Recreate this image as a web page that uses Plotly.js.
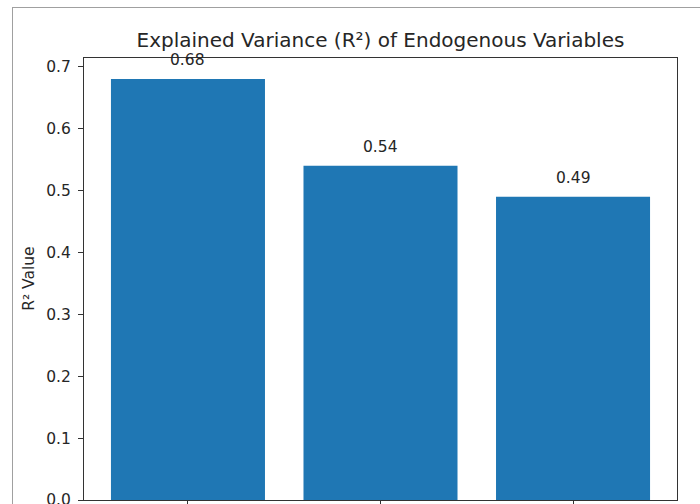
<!DOCTYPE html>
<html>
<head>
<meta charset="utf-8">
<script src="https://cdn.plot.ly/plotly-3.0.1.min.js"></script>
<style>
  html, body { margin: 0; padding: 0; background: #ffffff; overflow: hidden; width: 700px; height: 504px; }
  #frame { position: absolute; left: 12px; top: 7px; width: 700px; height: 600px; border: 1px solid #a0a0a0; box-sizing: border-box; }
  #chart { position: absolute; left: 0; top: 0; width: 700px; height: 540px; }
</style>
</head>
<body>
<div id="frame"></div>
<div id="chart"></div>
<script>
// Data (x tick labels are cropped out of the image)
const categories = ["Endogenous 1", "Endogenous 2", "Endogenous 3"];
const r2Values = [0.68, 0.54, 0.49];
const valueLabels = ["0.68", "0.54", "0.49"];
const yTicks = [0.0, 0.1, 0.2, 0.3, 0.4, 0.5, 0.6, 0.7];
const yTickLabels = ["0.0", "0.1", "0.2", "0.3", "0.4", "0.5", "0.6", "0.7"];

const xPos = categories.map((c, i) => i);
const font = "DejaVu Sans, sans-serif";
const textColor = "#262626";
const smallSize = 15.5;

const trace = {
  type: "bar",
  x: xPos,
  y: r2Values,
  width: 0.8,
  marker: { color: "#1f77b4", line: { width: 0 } },
  hoverinfo: "skip",
  customdata: categories
};

const annotations = r2Values.map((v, i) => ({
  x: xPos[i], y: v, xref: "x", yref: "y",
  text: valueLabels[i], showarrow: false,
  yanchor: "middle", yshift: 19,
  font: { family: font, size: smallSize, color: textColor }
}));

annotations.push({
  xref: "paper", yref: "paper", x: -0.093, y: 0.5,
  text: "R² Value", textangle: -90, showarrow: false,
  xanchor: "center", yanchor: "middle",
  font: { family: font, size: smallSize, color: textColor }
});

const layout = {
  width: 700, height: 540,
  margin: { l: 84, r: 23, t: 58, b: 40, pad: 0 },
  paper_bgcolor: "rgba(0,0,0,0)",
  plot_bgcolor: "#ffffff",
  showlegend: false,
  title: {
    text: "Explained Variance (R²) of Endogenous Variables",
    font: { family: font, size: 20, color: textColor },
    x: 0.5435, xanchor: "center", xref: "container",
    y: 1 - 40 / 540, yanchor: "middle", yref: "container"
  },
  xaxis: {
    range: [-0.54, 2.54],
    tickvals: xPos, ticktext: categories,
    showticklabels: false,
    ticks: "outside", ticklen: 5, tickwidth: 1, tickcolor: "#333",
    showgrid: false, zeroline: false,
    showline: true, linecolor: "#333", linewidth: 1, mirror: true,
    fixedrange: true
  },
  yaxis: {
    range: [0, 0.714],
    tickvals: yTicks, ticktext: yTickLabels,
    ticks: "outside", ticklen: 5, tickwidth: 1, tickcolor: "#333",
    ticklabelstandoff: 4,
    tickfont: { family: font, size: smallSize, color: textColor },
    showgrid: false, zeroline: false,
    showline: true, linecolor: "#333", linewidth: 1, mirror: true,
    fixedrange: true
  },
  annotations: annotations
};

Plotly.newPlot("chart", [trace], layout, { displayModeBar: false, staticPlot: true });
</script>
</body>
</html>
